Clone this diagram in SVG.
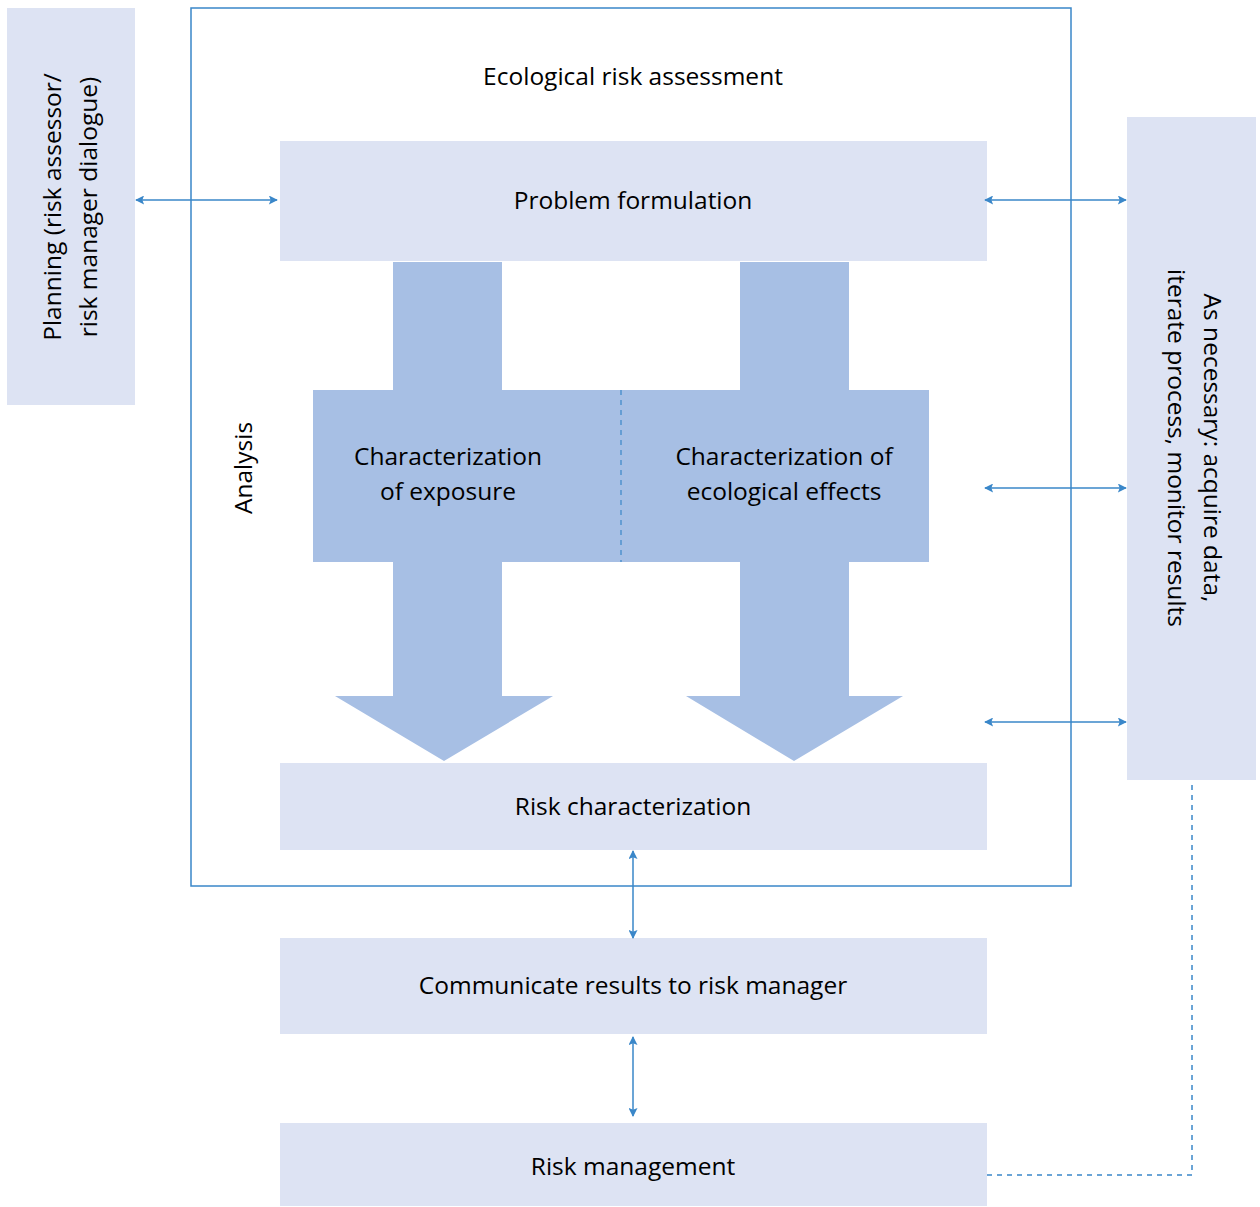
<svg xmlns="http://www.w3.org/2000/svg" width="1260" height="1207" viewBox="0 0 1260 1207">
<defs>
<style>
.box{fill:#dde3f3}
.big{fill:#a7bfe4}
.t{font-family:"Open Sans","Noto Sans",sans-serif;font-size:24.5px;fill:#000;text-anchor:middle}
.c{stroke:#3a87c9;stroke-width:1.5;fill:none}
.d{stroke:#3a87c9;stroke-width:1.5;fill:none;stroke-dasharray:5,5}
</style>
<marker id="ah" viewBox="0 0 10 10" refX="9" refY="5" markerWidth="11" markerHeight="9" markerUnits="userSpaceOnUse" orient="auto-start-reverse">
<path d="M0,0 L10,5 L0,10 L2,5 z" fill="#3a87c9"/>
</marker>
</defs>
<rect width="1260" height="1207" fill="#fff"/>
<g id="outer"><rect x="191" y="8" width="880" height="878" fill="none" stroke="#3a87c9" stroke-width="1.5"/>
<text class="t" x="633" y="85">Ecological risk assessment</text></g>
<g id="planning"><rect class="box" x="7" y="8" width="128" height="397"/>
<text class="t" transform="translate(61,207) rotate(-90)">Planning (risk assessor/</text>
<text class="t" transform="translate(97,207) rotate(-90)">risk manager dialogue)</text></g>
<g id="iterate"><rect class="box" x="1127" y="117" width="129" height="663"/>
<text class="t" transform="translate(1204,448) rotate(90)">As necessary: acquire data,</text>
<text class="t" transform="translate(1168,448) rotate(90)">iterate process, monitor results</text></g>
<g id="problem"><rect class="box" x="280" y="141" width="707" height="120"/>
<text class="t" x="633" y="209">Problem formulation</text></g>
<g id="analysis">
<path class="big" d="M393,262 H502 V390 H740 V262 H849 V390 H929 V562 H849 V696 H903 L794,761 L686,696 H740 V562 H502 V696 H553 L444,761 L335,696 H393 V562 H313 V390 H393 Z"/>
<line x1="621" y1="390" x2="621" y2="562" stroke="#3a87c9" stroke-width="1.2" stroke-dasharray="5,5"/>
<text class="t" transform="translate(252,468) rotate(-90)">Analysis</text>
<text class="t" x="448" y="465">Characterization</text>
<text class="t" x="448" y="500">of exposure</text>
<text class="t" x="784" y="465">Characterization of</text>
<text class="t" x="784" y="500">ecological effects</text>
</g>
<g id="riskchar"><rect class="box" x="280" y="763" width="707" height="87"/>
<text class="t" x="633" y="815">Risk characterization</text></g>
<g id="communicate"><rect class="box" x="280" y="938" width="707" height="96"/>
<text class="t" x="633" y="994">Communicate results to risk manager</text></g>
<g id="management"><rect class="box" x="280" y="1123" width="707" height="83"/>
<text class="t" x="633" y="1175">Risk management</text></g>
<g id="connectors">
<line class="c" x1="136" y1="200" x2="277" y2="200" marker-start="url(#ah)" marker-end="url(#ah)"/>
<line class="c" x1="985" y1="200" x2="1126" y2="200" marker-start="url(#ah)" marker-end="url(#ah)"/>
<line class="c" x1="985" y1="488" x2="1126" y2="488" marker-start="url(#ah)" marker-end="url(#ah)"/>
<line class="c" x1="985" y1="722" x2="1126" y2="722" marker-start="url(#ah)" marker-end="url(#ah)"/>
<line class="c" x1="633" y1="851" x2="633" y2="938" marker-start="url(#ah)" marker-end="url(#ah)"/>
<line class="c" x1="633" y1="1037" x2="633" y2="1116" marker-start="url(#ah)" marker-end="url(#ah)"/>
<path class="d" d="M1192,785 V1175 H985"/>
</g>
</svg>
